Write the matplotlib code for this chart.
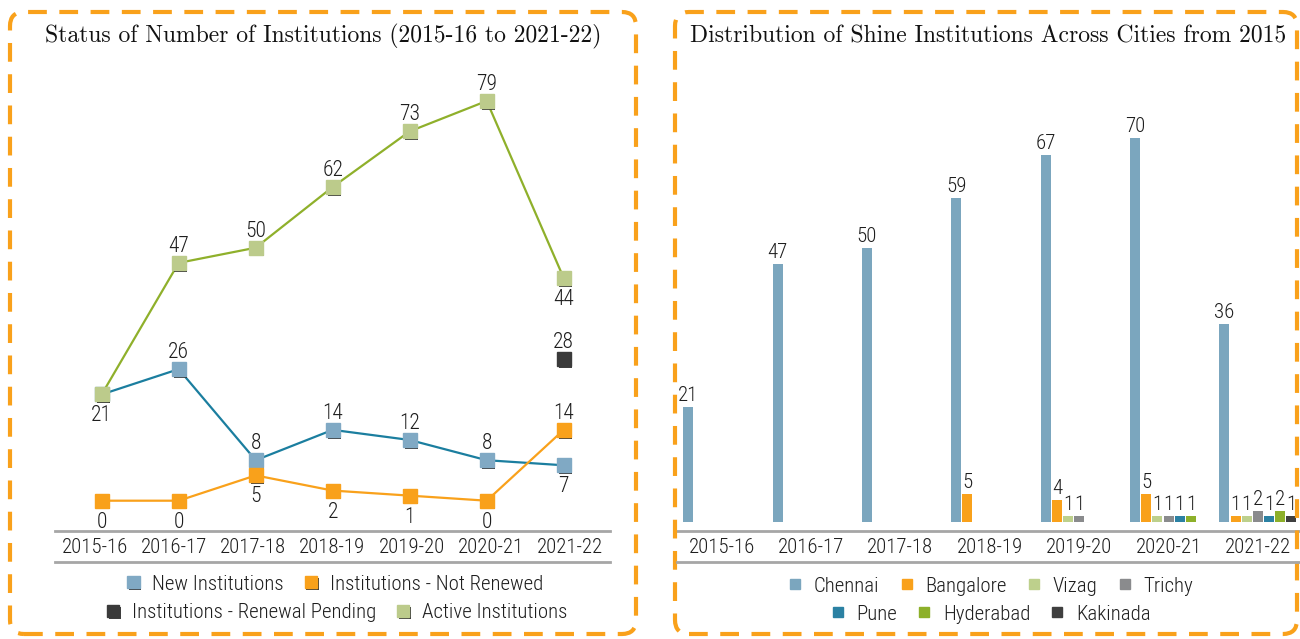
import numpy as np
import matplotlib as mpl
mpl.use('Agg')
import matplotlib.pyplot as plt
import matplotlib.patheffects as pe
from matplotlib.patches import FancyBboxPatch
from matplotlib.lines import Line2D
from matplotlib.transforms import IdentityTransform

mpl.rcParams['font.family'] = ['Roboto Condensed', 'DejaVu Sans']
mpl.rcParams['font.weight'] = 'light'

# data
years = ['2015-16', '2016-17', '2017-18', '2018-19', '2019-20', '2020-21', '2021-22']

new_inst = [21, 26, 8, 14, 12, 8, 7]
not_renewed = [0, 0, 5, 2, 1, 0, 14]
renewal_pending = [np.nan, np.nan, np.nan, np.nan, np.nan, np.nan, 28]
active_inst = [21, 47, 50, 62, 73, 79, 44]

cities = ['Chennai', 'Bangalore', 'Vizag', 'Trichy', 'Pune', 'Hyderabad', 'Kakinada']
chennai = [21, 47, 50, 59, 67, 70, 36]
bangalore = [0, 0, 0, 5, 4, 5, 1]
vizag = [0, 0, 0, 0, 1, 1, 1]
trichy = [0, 0, 0, 0, 1, 1, 2]
pune = [0, 0, 0, 0, 0, 1, 1]
hyderabad = [0, 0, 0, 0, 0, 1, 2]
kakinada = [0, 0, 0, 0, 0, 0, 1]

W, H = 1300, 639
ORANGE = '#F9A11B'
GRID = '#A6A6A6'
TXT = '#1e1e1e'


def fx(x):
    return x / W


def fy(y):
    return 1 - y / H


fig = plt.figure(figsize=(W / 100, H / 100), dpi=100)

# dashed frames round both panels
for x0, x1 in [(10, 636), (675, 1297)]:
    box = FancyBboxPatch((x0, H - 634), x1 - x0, 622,
                         boxstyle='round,pad=0,rounding_size=14',
                         transform=IdentityTransform(), fill=False,
                         ec=ORANGE, lw=3, ls=(0, (4.5, 3)))
    fig.add_artist(box)

fig.text(fx(323), fy(36), 'Status of Number of Institutions (2015-16 to 2021-22)',
         family='cmr10', fontsize=17, ha='center', va='center', color='#111111')
fig.text(fx(988), fy(36), 'Distribution of Shine Institutions Across Cities from 2015',
         family='cmr10', fontsize=17, ha='center', va='center', color='#111111')


def style_axis(ax, x0, x1):
    for s in ['top', 'right', 'left']:
        ax.spines[s].set_visible(False)
    ax.spines['bottom'].set_color(GRID)
    ax.spines['bottom'].set_linewidth(2)
    ax.set_yticks([])
    ax.set_xticks([])
    ax.patch.set_alpha(0)
    for k, lab in enumerate(years):
        ax.text((k + 0.5) / 7, -0.036, lab, transform=ax.transAxes,
                ha='center', va='center', fontsize=15, color=TXT)
    fig.add_artist(Line2D([fx(x0), fx(x1)], [fy(562), fy(562)], color=GRID, lw=2))


# ---- left: line chart
ax1 = fig.add_axes([fx(55), fy(530.7), (610 - 55) / W, (530.7 - 60) / H])
style_axis(ax1, 55, 610)
ax1.set_xlim(-0.606, 6.601)
ax1.set_ylim(-5.93, 87.1)

xs = np.arange(len(years))
shadow = [pe.SimplePatchShadow(offset=(1.3, -1.3), shadow_rgbFace='#2b2b2b', alpha=0.9), pe.Normal()]

series = [
    (new_inst, 'New Institutions', '#1B7E9F', '#80A9C4',
     [None, 'a', 'a', 'a', 'a', 'a', 'b']),
    (not_renewed, 'Institutions - Not Renewed', ORANGE, ORANGE,
     ['b', 'b', 'b', 'b', 'b', 'b', 'a']),
    (renewal_pending, 'Institutions - Renewal Pending', '#3a3a3a', '#3a3a3a',
     [None, None, None, None, None, None, 'a']),
    (active_inst, 'Active Institutions', '#8FB02B', '#BCCB8B',
     ['b', 'a', 'a', 'a', 'a', 'a', 'b']),
]

handles = []
for z, (vals, name, lc, mc, pos) in enumerate(series):
    ax1.plot(xs, vals, color=lc, lw=1.6, zorder=2 + z * 2)
    ax1.plot(xs, vals, ls='none', marker='s', ms=10, mfc=mc, mec=mc,
             path_effects=shadow, zorder=3 + z * 2)
    handles.append(Line2D([], [], ls='none', marker='s', ms=9, mfc=mc, mec=mc,
                          path_effects=shadow, label=name))
    for x, v, p in zip(xs, vals, pos):
        if p is None or np.isnan(v):
            continue
        off = 6 if p == 'a' else -11
        ax1.annotate(f'{v:g}', (x, v), xytext=(0, off), textcoords='offset pixels',
                     ha='center', va='bottom' if p == 'a' else 'top',
                     fontsize=15.5, color=TXT, zorder=20)

leg_kw = dict(frameon=False, fontsize=15, handlelength=0.8, handletextpad=0.5,
              columnspacing=0.9, labelcolor=TXT, borderpad=0, loc='center')
fig.legend(handles=handles[:2], ncol=2, bbox_to_anchor=(fx(334), fy(584)), **leg_kw)
fig.legend(handles=handles[2:], ncol=2, bbox_to_anchor=(fx(336), fy(613)), **leg_kw)

# ---- right: grouped bars
ax2 = fig.add_axes([fx(677), fy(530.7), (1302.6 - 677) / W, (530.7 - 60) / H])
style_axis(ax2, 677, 1300)
ax2.set_xlim(-0.5, 6.5)
ax2.set_ylim(-1.64, 84.25)

city_vals = [chennai, bangalore, vizag, trichy, pune, hyderabad, kakinada]
city_colors = ['#7BA6BE', ORANGE, '#BDD08C', '#8A8B8D', '#2B81A3', '#8DB02A', '#3F3F3F']
step, bw = 0.125, 0.112
bar_handles = []
for i, (vals, name, c) in enumerate(zip(city_vals, cities, city_colors)):
    pos_x = xs + (i - 3) * step
    ax2.bar(pos_x, vals, width=bw, color=c, zorder=3)
    bar_handles.append(Line2D([], [], ls='none', marker='s', ms=7.5, mfc=c, mec=c, label=name))
    for x, v in zip(pos_x, vals):
        if v > 0:
            ax2.annotate(f'{v}', (x, v), xytext=(0, 2), textcoords='offset pixels',
                         ha='center', va='bottom', fontsize=15, color=TXT)

fig.legend(handles=bar_handles[:4], ncol=4, bbox_to_anchor=(fx(990), fy(586)), **leg_kw)
fig.legend(handles=bar_handles[4:], ncol=3, bbox_to_anchor=(fx(990), fy(614)), **leg_kw)

fig.savefig('out.png', dpi=100)
